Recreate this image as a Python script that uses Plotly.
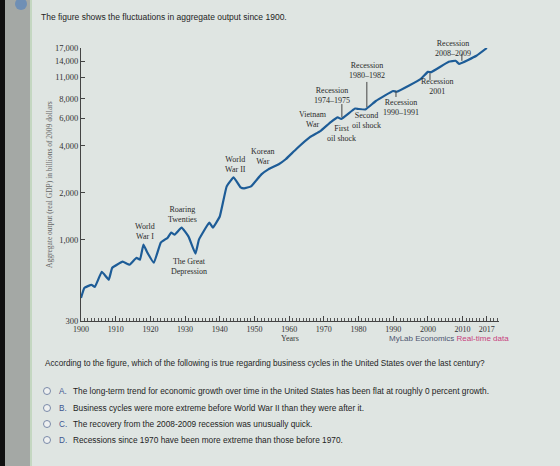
import numpy as np
import plotly.graph_objects as go

# ---- data (real GDP, billions of 2009 dollars) ----
years = [1900, 1901, 1903, 1904, 1906, 1908, 1909, 1912, 1914, 1916, 1917, 1918,
         1919, 1921, 1923, 1925, 1926, 1927, 1929, 1931, 1933, 1934, 1937, 1938,
         1940, 1942, 1944, 1946, 1947, 1949, 1952, 1954, 1957, 1959, 1962, 1966,
         1969, 1972, 1974, 1975, 1979, 1980, 1982, 1985, 1990, 1991, 1998, 2000,
         2001, 2006, 2008, 2009, 2014, 2017]
gdp = [422, 490, 512, 497, 621, 552, 659, 721, 689, 764, 742, 928,
       836, 710, 956, 1029, 1109, 1076, 1194, 1045, 812, 1000, 1286, 1194,
       1407, 2197, 2511, 2163, 2132, 2197, 2624, 2826, 3045, 3280, 3805, 4549,
       4971, 5683, 6100, 5950, 6950, 6900, 6850, 7762, 9003, 8900, 10768, 11943,
       11900, 13870, 14070, 13450, 15150, 17000]

y_ticks = [300, 1000, 2000, 4000, 6000, 8000, 11000, 14000, 17000]
y_tick_text = ["300", "1,000", "2,000", "4,000", "6,000", "8,000", "11,000", "14,000", "17,000"]
x_ticks = [1900, 1910, 1920, 1930, 1940, 1950, 1960, 1970, 1980, 1990, 2000, 2010, 2017]

# event labels: (text, year, value)
events = [
    ("World<br>War I", 1918.4, 1125),
    ("Roaring<br>Twenties", 1929.4, 1449),
    ("The Great<br>Depression", 1931.1, 669),
    ("World<br>War II", 1944.4, 3045),
    ("Korean<br>War", 1952.5, 3430),
    ("Vietnam<br>War", 1966.9, 5945),
    ("Recession<br>1974–1975", 1972.3, 8360),
    ("First<br>oil shock", 1975.2, 4826),
    ("Recession<br>1980–1982", 1982.4, 12124),
    ("Second<br>oil shock", 1982.4, 5856),
    ("Recession<br>1990–1991", 1992.2, 7100),
    ("Recession<br>2001", 2002.6, 9560),
    ("Recession<br>2008–2009", 2007.2, 17000),
]
# pointer lines: (year, value_top, value_bottom)
pointers = [
    (1975.2, 7420, 6100),
    (1982.4, 10290, 7100),
    (1990.8, 9003, 8240),
    (2000.6, 11760, 10600),
    (2009.8, 15600, 14070),
]

question = ("According to the figure, which of the following is true regarding "
            "business cycles in the United States over the last century?")
options = [
    ("A.", "The long-term trend for economic growth over time in the United States has been flat at roughly 0 percent growth."),
    ("B.", "Business cycles were more extreme before World War II than they were after it."),
    ("C.", "The recovery from the 2008-2009 recession was unusually quick."),
    ("D.", "Recessions since 1970 have been more extreme than those before 1970."),
]

W, H = 560, 466
L, R, T, B = 81, 61, 48, 145
pw, ph = W - L - R, H - T - B

def px(xpix):
    return (xpix - L) / pw

def py(ypix):
    return (H - B - ypix) / ph

serif = "Liberation Serif"
sans = "Liberation Sans"

fig = go.Figure()
fig.add_trace(go.Scatter(x=years, y=gdp, mode="lines",
                         line=dict(color="#1d5c97", width=2.2, shape="spline", smoothing=0.3),
                         hoverinfo="skip", showlegend=False))

annotations = []
for text, yr, val in events:
    annotations.append(dict(x=yr, y=np.log10(val), xref="x", yref="y", text=text,
                            showarrow=False, font=dict(family=serif, size=8, color="#2a2a2a"),
                            align="center", xanchor="center", yanchor="middle"))

shapes = []
for yr, v0, v1 in pointers:
    shapes.append(dict(type="line", xref="x", yref="y", x0=yr, x1=yr, y0=v0, y1=v1,
                       line=dict(color="#444", width=1)))

def note(xp, yp, text, size, color, family=sans, xanchor="left", xref="paper", angle=0):
    annotations.append(dict(x=xp, y=yp, xref=xref, yref="paper", xanchor=xanchor,
                            yanchor="middle", text=text, showarrow=False, textangle=angle,
                            font=dict(family=family, size=size, color=color)))

# y-axis title
note(px(49), py(185), "Aggregate output (real GDP) in billions of 2009 dollars", 7.5, "#666",
     family=serif, xanchor="center", angle=-90)
note(1960.2, py(338), "Years", 8, "#333", family=serif, xanchor="center", xref="x")
note(px(387), py(338), "MyLab Economics <span style='color:#c8427e'>Real-time data</span>",
     8, "#4e5670")
note(px(39), py(17), "The figure shows the fluctuations in aggregate output since 1900.",
     8.5, "#1e1e1e")
note(px(43), py(363), question, 8.2, "#1e1e1e")

opt_y = [391, 408, 424, 440]
for (letter, txt), yy in zip(options, opt_y):
    note(px(57), py(yy), letter, 8.2, "#3d5590")
    note(px(71), py(yy), txt, 8.3, "#1e1e1e")
    shapes.append(dict(type="circle", xref="paper", yref="paper",
                       xsizemode="pixel", ysizemode="pixel",
                       xanchor=px(47), yanchor=py(yy), x0=-3.5, x1=3.5, y0=-3.5, y1=3.5,
                       line=dict(color="#7a8aa8", width=1), fillcolor="#eef0f0"))

# left bezel strips
shapes.append(dict(type="rect", xref="paper", yref="paper", x0=px(0), x1=px(5), y0=py(H), y1=py(0),
                   fillcolor="#101010", line=dict(width=0), layer="below"))
shapes.append(dict(type="rect", xref="paper", yref="paper", x0=px(5), x1=px(30), y0=py(H), y1=py(0),
                   fillcolor="#a4a8a5", line=dict(width=0), layer="below"))
shapes.append(dict(type="line", xref="paper", yref="paper", x0=px(31), x1=px(31), y0=py(H), y1=py(0),
                   line=dict(color="#a9c9a0", width=1), layer="below"))
shapes.append(dict(type="circle", xref="paper", yref="paper", xsizemode="pixel", ysizemode="pixel",
                   xanchor=px(21), yanchor=py(4), x0=-6, x1=6, y0=-6, y1=6,
                   fillcolor="#6f8fb5", line=dict(width=0)))

fig.update_layout(
    width=W, height=H,
    margin=dict(l=L, r=R, t=T, b=B),
    paper_bgcolor="#dfe5e2", plot_bgcolor="#dfe5e2",
    showlegend=False,
    annotations=annotations, shapes=shapes,
    xaxis=dict(range=[1900, 2020.5], tickvals=x_ticks, ticks="inside", ticklen=5,
               tickcolor="#444", showline=True, linecolor="#444", linewidth=1,
               showgrid=False, zeroline=False, fixedrange=True,
               tickfont=dict(family=serif, size=8, color="#333"),
               minor=dict(dtick=1, tick0=1900, ticks="inside", ticklen=3, tickcolor="#555",
                          showgrid=False)),
    yaxis=dict(type="log", range=[np.log10(300), np.log10(17000)],
               tickvals=y_ticks, ticktext=y_tick_text, ticks="inside", ticklen=4,
               tickcolor="#444", showline=True, linecolor="#444", linewidth=1,
               showgrid=False, zeroline=False, fixedrange=True,
               tickfont=dict(family=serif, size=8.5, color="#333")),
)

fig.write_html("out.html")
